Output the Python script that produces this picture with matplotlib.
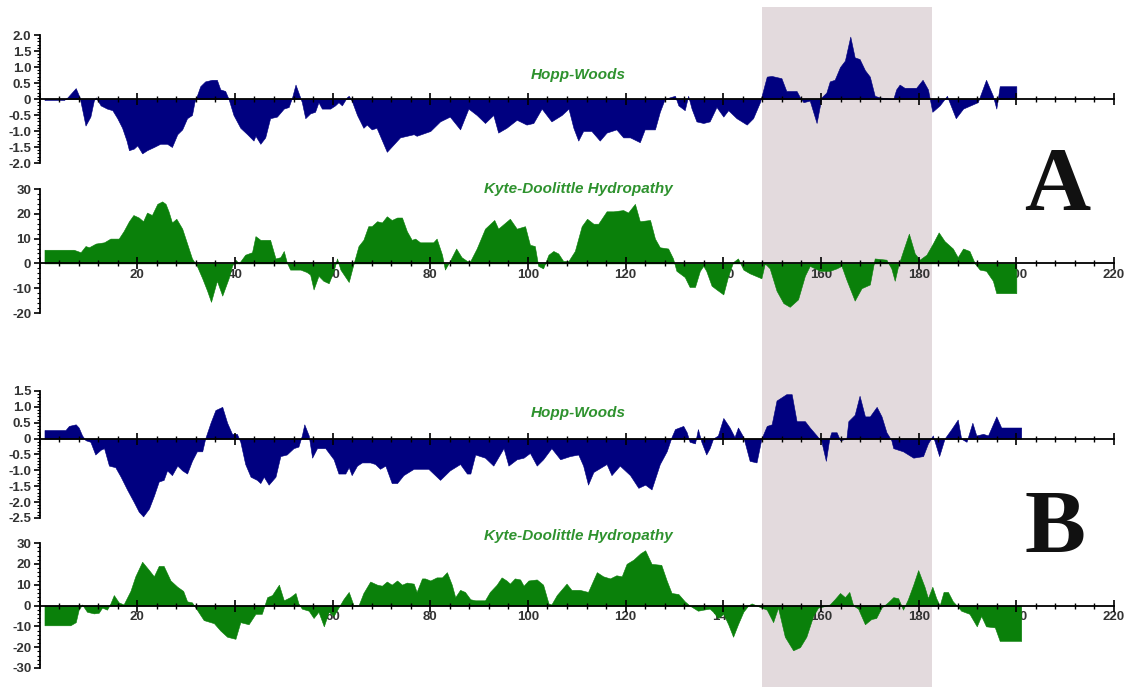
import matplotlib
matplotlib.use("Agg")
import matplotlib.pyplot as plt
from matplotlib.ticker import MultipleLocator, FuncFormatter

# ---- data ----
hw_a_x = [1, 5, 5.7, 7.4, 8.2, 9.4, 10.4, 11.1, 11.5, 12.5, 13.8, 14.9, 15.9, 16.9, 17.8, 18.3, 19.3, 20, 21, 22,
          23.4, 24.7, 26.1, 27.1, 28.2, 29.2, 30.2, 31.2, 31.7, 32.2, 32.9, 33.9, 35.3, 36.3, 37, 38, 38.7, 39.7,
          41.1, 42.5, 43.8, 44.2, 45.2, 46.2, 47.2, 48.6, 50, 51, 51.7, 52.4, 53, 53.7, 54.4, 55.4, 56.4, 57.1,
          57.8, 59.5, 60.5, 61.2, 61.9, 62.9, 63.3, 63.9, 65, 66.3, 67, 68, 69, 71.1, 73.8, 76.6, 77.2, 80, 82, 84,
          86.1, 87.8, 89.5, 91.2, 92.9, 93.9, 95.6, 97.7, 99.7, 101.1, 102.8, 104.8, 106.9, 108.3, 109.3, 110.3,
          111.3, 113, 114.7, 116.1, 118.1, 119.5, 120.9, 122.9, 123.9, 126, 127, 128, 129, 130.1, 130.8, 132.1,
          132.8, 133.5, 134.5, 135.9, 137.2, 138.6, 140, 141, 142.7, 144.8, 146.1, 147.5, 148.2, 148.9, 149.9,
          151.9, 152.9, 155, 155.7, 156.4, 157.7, 159.1, 160.1, 161.1, 161.8, 162.8, 163.9, 164.9, 166, 166.9,
          167.9, 169, 170, 171, 172, 174.8, 175.4, 176.1, 177.1, 179.5, 180.8, 181.9, 182.8, 184.3, 185.8, 186.3,
          187.6, 189.1, 192.1, 193.8, 195.2, 195.9, 196.6, 200]
hw_a_y = [-0.03, -0.03, 0.05, 0.34, 0.05, -0.83, -0.55, -0.05, 0.05, -0.2, -0.3, -0.35, -0.6, -0.9, -1.3, -1.6,
          -1.55, -1.45, -1.7, -1.6, -1.5, -1.4, -1.4, -1.5, -1.1, -0.95, -0.6, -0.5, -0.1, 0.1, 0.4, 0.55, 0.6, 0.6,
          0.3, 0.25, 0.0, -0.5, -0.9, -1.1, -1.3, -1.15, -1.4, -1.2, -0.6, -0.55, -0.3, -0.25, 0.05, 0.45, 0.2,
          -0.1, -0.6, -0.45, -0.4, -0.1, -0.3, -0.3, -0.2, -0.1, -0.2, 0.05, 0.1, -0.05, -0.5, -0.9, -0.8, -0.95,
          -0.9, -1.65, -1.2, -1.1, -1.15, -1.0, -0.7, -0.55, -0.95, -0.3, -0.5, -0.75, -0.5, -1.05, -0.9, -0.65,
          -0.8, -0.75, -0.3, -0.7, -0.5, -0.3, -0.9, -1.3, -1.0, -1.0, -1.3, -1.05, -0.95, -1.2, -1.2, -1.35,
          -0.95, -0.95, -0.4, 0.0, 0.05, 0.1, -0.2, -0.35, 0.1, -0.3, -0.7, -0.75, -0.7, -0.25, -0.55, -0.35,
          -0.6, -0.8, -0.6, -0.1, 0.3, 0.7, 0.72, 0.65, 0.25, 0.25, 0.05, -0.1, -0.05, -0.75, 0.05, 0.2, 0.55,
          0.6, 1.0, 1.2, 1.95, 1.3, 1.25, 0.9, 0.7, 0.1, 0.05, 0.0, 0.3, 0.45, 0.35, 0.35, 0.6, 0.3, -0.4, -0.2,
          0.1, -0.1, -0.6, -0.3, -0.1, 0.6, 0.1, -0.3, 0.4, 0.4]

kd_a_x = [1, 7, 8.4, 9.4, 10.1, 11.5, 13.2, 14.5, 16.2, 17.2, 18.3, 19.2, 20.3, 21.2, 22, 23, 24.1, 25.1, 25.8,
          26.4, 27.1, 28, 29.2, 30.2, 31.2, 32.2, 33.3, 34.3, 35.1, 36.3, 37.4, 38.7, 39.4, 40.1, 40.8, 42.1, 43.5,
          44.2, 45.2, 47.2, 48.3, 49.3, 50, 50.6, 51.3, 53.4, 54.7, 55.4, 56.1, 57.1, 58.1, 59.2, 60.2, 60.9, 61.6,
          63.3, 64.3, 65.3, 66.3, 67.3, 68, 69.1, 70.1, 71.1, 72.1, 73.2, 74.2, 75.2, 76.2, 76.9, 77.9, 80.6, 81.3,
          82.4, 83, 84, 85.3, 86.4, 87.5, 88.2, 89.5, 91.2, 93.1, 93.9, 96.3, 97.7, 99.4, 100.4, 101.4, 102.1,
          103.1, 104.2, 105.2, 106.2, 107.2, 108.3, 109.6, 111, 112.1, 113.4, 114.4, 116.1, 117.5, 119.5, 120.5,
          121.9, 122.9, 125, 126, 127, 128.7, 129.7, 130.4, 132.1, 133.1, 134.2, 135.2, 135.9, 136.5, 137.6, 138.6,
          140, 141, 142, 143, 144.1, 145.4, 147.8, 148.5, 149.5, 150.9, 152.3, 153.6, 155.3, 156.7, 157.7, 159.8,
          161.8, 163.2, 164.2, 165.2, 166.9, 168.3, 170, 171, 173.4, 174.4, 175.1, 175.8, 176.8, 178, 179.2, 180.2,
          181.6, 182.9, 184.1, 185.3, 187, 188, 189.1, 190.4, 191.5, 192.5, 193.8, 195.2, 195.9, 200]
kd_a_y = [5.5, 5.5, 4.5, 7, 6.5, 8, 8.5, 10, 10, 13, 17, 19.5, 18.5, 17, 20.5, 19.5, 24, 25, 24, 21, 16.5, 18, 14,
          8, 2, -1, -6, -11, -15.5, -7, -13, -6, -1, 1.5, 0, 3.5, 4.5, 11, 9.5, 9.5, 2, 2.5, 5, 0.5, -2.5, -2.5,
          -3.5, -4.5, -10.5, -5, -7, -8, -3, 2, -2.5, -7.5, 0, 7, 9.5, 15, 15, 17, 16.5, 19, 17.5, 18.5, 18.5, 13,
          9.5, 10, 8.5, 8.5, 10, 3.5, -2.5, 1, 6, 2.5, 1, 1, 6, 14, 17.5, 14, 18, 14, 15, 7.5, 7, -1, -2, 3.5, 5,
          4, 1, 1, 5, 15, 18, 16, 16, 21, 21, 21.5, 20.5, 24, 17, 17.5, 10, 6.5, 6, 2, -3, -5.5, -9.5, -9.5, -3,
          -1, -3, -9, -10.5, -12.5, -5, 0.5, 2, -2.5, -4, -6, 0, -2, -11, -16, -17.5, -14.5, -5, -1, -3, -3, -2,
          -1, -6.5, -15, -10, -8.5, 2, 1.5, -2, -7, -1, 5, 12, 4, 1.5, 3.5, 8, 12.5, 9, 6, 2.5, 6, 5, 0, -2.5, -3,
          -7, -12, -12]

hw_b_x = [1, 5.3, 6, 7.4, 8, 8.7, 9.4, 10.4, 11.4, 12.5, 13.2, 14.2, 15.5, 16.6, 17.9, 19.3, 20.3, 21.2, 22.4,
          23.4, 24.4, 25.4, 26.1, 27.1, 28.2, 29.2, 30.2, 31.2, 32.2, 33.3, 33.9, 35, 36, 37.4, 38.4, 39.4, 40.4,
          41.1, 42.1, 43.2, 44.5, 45.2, 45.9, 46.9, 48.3, 49.3, 50.6, 52, 53, 53.7, 54.2, 55.1, 55.8, 56.8, 58.5,
          60.2, 61.2, 62.6, 63.3, 63.9, 65, 66, 67.7, 68.7, 69.7, 70.8, 72.1, 73.2, 74.5, 76.6, 79.6, 82, 84, 86.1,
          87.5, 88.2, 89.2, 91.2, 92.9, 95, 96, 97.7, 99.1, 100.4, 101.8, 103.1, 104.8, 106.6, 108.6, 110.3, 111.3,
          112.3, 113.4, 116.1, 117.1, 118.8, 120.9, 122.6, 124, 125.3, 127, 128.4, 129.4, 130.1, 131.8, 132.5,
          133.1, 134.2, 134.8, 135.5, 136.5, 137.2, 137.9, 138.9, 140, 141.3, 142.3, 143, 144.1, 145.4, 146.8,
          147.8, 148.9, 149.9, 150.9, 151.9, 152.9, 154, 155, 156.7, 157.7, 159.1, 160.1, 161, 161.7, 162.1, 163.2,
          163.9, 165.2, 165.6, 166.9, 167.9, 169, 170, 171.4, 172.4, 173.4, 174.4, 174.8, 176.8, 178.9, 180.9,
          181.9, 182.9, 184.2, 185.3, 186.7, 188, 188.7, 189.8, 191, 191.8, 193.2, 194.2, 195.9, 196.9, 201]
hw_b_y = [0.27, 0.27, 0.4, 0.45, 0.35, 0.1, -0.05, -0.1, -0.5, -0.35, -0.3, -0.85, -0.9, -1.2, -1.6, -2.0, -2.3,
          -2.45, -2.2, -1.8, -1.35, -1.3, -1.0, -1.15, -0.85, -1.0, -1.1, -0.7, -0.4, -0.4, 0, 0.5, 0.9, 1.0, 0.5,
          0.15, 0.15, -0.1, -0.8, -1.2, -1.3, -1.4, -1.2, -1.45, -1.2, -0.55, -0.5, -0.3, -0.25, 0.1, 0.45, 0.1,
          -0.6, -0.3, -0.3, -0.65, -1.1, -1.1, -0.9, -1.15, -0.85, -0.75, -0.75, -0.8, -0.95, -0.85, -1.4, -1.4,
          -1.15, -0.95, -0.95, -1.3, -1.0, -0.8, -1.1, -1.1, -0.5, -0.6, -0.85, -0.3, -0.85, -0.65, -0.6, -0.45,
          -0.85, -0.65, -0.3, -0.65, -0.55, -0.5, -0.85, -1.45, -1.05, -0.8, -1.15, -0.85, -1.15, -1.55, -1.45,
          -1.6, -0.8, -0.4, 0.05, 0.3, 0.4, 0.2, -0.1, -0.15, 0.3, -0.1, -0.5, -0.3, 0.0, 0.1, 0.65, 0.35, 0.05,
          0.35, 0.05, -0.7, -0.75, 0, 0.4, 0.45, 1.2, 1.3, 1.4, 1.4, 0.55, 0.55, 0.35, 0.1, -0.1, -0.7, 0.0, 0.2,
          0.2, -0.05, 0.0, 0.55, 0.75, 1.35, 0.7, 0.7, 1.0, 0.7, 0.2, -0.05, -0.3, -0.4, -0.6, -0.55, -0.15, 0.1,
          -0.55, 0.0, 0.3, 0.6, 0.0, -0.1, 0.5, 0.1, 0.15, 0.1, 0.7, 0.35, 0.35]

kd_b_x = [1, 6.3, 7.4, 8, 8.7, 9.7, 11.1, 12.1, 12.8, 13.8, 14.5, 15.2, 16.2, 17.2, 18.6, 19.6, 21, 22.4, 23.4,
          24.4, 25.4, 26.8, 28.2, 29.4, 30.2, 31.2, 32.2, 33.6, 35.7, 37, 38.4, 40.1, 41.1, 42.8, 44.2, 45.5, 46.6,
          47.6, 49, 50, 51.3, 52.4, 53, 53.7, 55.1, 56.1, 57.1, 58.2, 59.2, 60.2, 61.2, 62.2, 63.3, 64.3, 65.3,
          66.3, 67.7, 69.1, 70.1, 71.1, 72.1, 73.2, 74.2, 75.2, 76.6, 77.2, 78.3, 78.9, 80, 81.3, 82.4, 83.4, 84.4,
          85.1, 86.1, 87.1, 88.2, 89.2, 91.2, 92.2, 93.6, 94.6, 95.6, 96.3, 97.3, 98.4, 99.1, 100.1, 101.8, 103.1,
          104.2, 104.8, 105.9, 107.9, 108.9, 110.6, 112.3, 114.1, 115.4, 116.8, 118.1, 119.2, 120.2, 121.6, 123,
          124, 125.3, 127.3, 128.4, 129.4, 130.8, 132.1, 133.1, 134.8, 135.9, 137.2, 137.9, 138.9, 140, 141, 142,
          143, 144.1, 145.1, 145.8, 146.8, 147.8, 148.9, 150.2, 151.2, 152.6, 154.3, 155.7, 157, 158.4, 159.4,
          160.4, 161.8, 162.8, 163.9, 164.9, 165.8, 166.6, 167.6, 169, 170.3, 171.3, 172.4, 173.7, 174.8, 175.8,
          176.8, 177.8, 178.9, 179.9, 181.2, 181.9, 182.8, 183.6, 184.3, 185.1, 186, 187, 188, 188.7, 190.4, 191.9,
          192.8, 193.8, 195.6, 196.6, 201]
kd_b_y = [-9.5, -9.5, -8, -2, 0.5, -3, -3.8, -3.5, -1, -2, 1, 5, 1.5, 0.5, 7, 14, 21, 17, 14, 19, 19, 12, 9, 7,
          2, 1.5, -2, -7, -8.5, -12, -15, -16, -8, -9, -4, -4, 4, 5, 10, 2.5, 4, 6, 1, -1.5, -2.5, -6, -3, -10,
          -3, -5, -1, 3, 6.5, 0, 0, 6, 11.5, 10, 9.5, 11.5, 10, 12, 10, 11, 10.5, 6.5, 13, 13, 12, 13.5, 13.5, 16,
          10, 4, 7.5, 6.5, 3, 2.5, 2.5, 6.5, 10, 13.5, 12, 10.5, 13, 12.5, 9.5, 12, 12.5, 10, 1, 0.5, 5, 10.5,
          7.5, 7.5, 6.5, 16, 14, 13, 14.5, 14, 20, 22, 25, 26.5, 20, 19.5, 12, 6, 5.5, 2, 0, -2.5, -2, -1.5, -3,
          -6, -4, -9, -15, -9, -3, 0, 1, 0, -1, -2, -8, -1, -15, -21.5, -20, -15, -5, -1, -0.5, 0.5, 3, 6, 4, 6.5,
          0, -1.5, -9, -6.5, -6, -1, 1.5, 4, 3.5, -2, 3, 10, 17, 9, 3.5, 9, 3.5, 0, 6.5, 6.5, 2, -0.5, -2.5, -4,
          -10, -5, -10, -10.5, -17, -17]

shade_start, shade_end = 147.9, 182.8
x_labels = [20, 40, 60, 80, 100, 120, 140, 160, 180, 200, 220]

NAVY = "#000080"
GREEN = "#0a800a"
TITLE_GREEN = "#2e922e"
GRAY = "#333333"

plt.rcParams["font.family"] = ["Liberation Sans", "DejaVu Sans"]
plt.rcParams["font.weight"] = "bold"

W, H = 1130, 687
fig = plt.figure(figsize=(W / 100, H / 100), dpi=100)

X0, X1 = 39.6, 1114  # pixel positions of x=0 and x=220
left, width = X0 / W, (X1 - X0) / W


def add_panel(top_px, bot_px):
    return fig.add_axes([left, 1 - bot_px / H, width, (bot_px - top_px) / H])


# shaded band behind everything
bg = fig.add_axes([left, 0, width, 1 - 7 / H], zorder=-1)
bg.set_xlim(0, 220)
bg.axvspan(shade_start, shade_end, color="#e3dadd", lw=0)
bg.axis("off")


def style(ax, ylo, yhi, ymaj, ymin, fmt):
    ax.set_xlim(0, 220)
    ax.set_ylim(ylo, yhi)
    ax.patch.set_visible(False)
    ax.spines["top"].set_visible(False)
    ax.spines["right"].set_visible(False)
    ax.spines["bottom"].set_position(("data", 0))
    ax.spines["bottom"].set_bounds(0, 220)
    ax.spines["left"].set_bounds(ylo, yhi)
    for s in ("bottom", "left"):
        ax.spines[s].set_linewidth(1.3)
    ax.xaxis.set_major_locator(MultipleLocator(20))
    ax.xaxis.set_minor_locator(MultipleLocator(4))
    ax.yaxis.set_major_locator(MultipleLocator(ymaj))
    ax.yaxis.set_minor_locator(MultipleLocator(ymin))
    ax.yaxis.set_major_formatter(FuncFormatter(fmt))
    ax.tick_params(axis="x", which="major", direction="inout", length=8, width=1.2, labelbottom=False)
    ax.tick_params(axis="x", which="minor", direction="inout", length=5, width=1)
    ax.tick_params(axis="y", which="major", direction="out", length=4, width=1.2,
                   labelsize=9.5, labelcolor=GRAY, pad=2)
    ax.tick_params(axis="y", which="minor", direction="out", length=2, width=0.8)


def fmt_hw(v, pos):
    return "0" if abs(v) < 1e-9 else f"{v:.1f}"


def fmt_kd(v, pos):
    return f"{v:.0f}"


def x_tick_texts(ax):
    # drawn below the fill, so the fill hides parts of some labels
    for v in x_labels:
        ax.annotate(str(v), xy=(v, 0), xytext=(0, -8.5), textcoords="offset points",
                    ha="center", va="center", fontsize=9.5, color=GRAY, zorder=0.5,
                    annotation_clip=False)


title_kw = dict(ha="center", va="center", color=TITLE_GREEN, fontsize=11,
                fontstyle="italic", fontweight="bold")

# ---- A ----
ax = add_panel(35, 163)
style(ax, -2, 2, 0.5, 0.1, fmt_hw)
ax.fill_between(hw_a_x, hw_a_y, 0, color=NAVY, lw=0.4, zorder=1)
ax.text(110.3, 0.75, "Hopp-Woods", **title_kw)

ax = add_panel(189, 313)
style(ax, -20, 30, 10, 2, fmt_kd)
ax.fill_between(kd_a_x, kd_a_y, 0, color=GREEN, lw=0.4, zorder=1)
x_tick_texts(ax)
ax.text(110.3, 30, "Kyte-Doolittle Hydropathy", **title_kw)

# ---- B ----
ax = add_panel(391, 518)
style(ax, -2.5, 1.5, 0.5, 0.1, fmt_hw)
ax.fill_between(hw_b_x, hw_b_y, 0, color=NAVY, lw=0.4, zorder=1)
ax.text(110.3, 0.8, "Hopp-Woods", **title_kw)

ax = add_panel(543, 668)
style(ax, -30, 30, 10, 2, fmt_kd)
ax.fill_between(kd_b_x, kd_b_y, 0, color=GREEN, lw=0.4, zorder=1)
x_tick_texts(ax)
ax.text(110.3, 33.4, "Kyte-Doolittle Hydropathy", clip_on=False, **title_kw)

letter_kw = dict(ha="center", va="baseline", fontsize=66, family="Liberation Serif",
                 fontweight="bold", color="#111111")
fig.text(1057 / W, 1 - 210 / H, "A", **letter_kw)
fig.text(1055 / W, 1 - 553 / H, "B", **letter_kw)

fig.savefig("out.png", dpi=100)
